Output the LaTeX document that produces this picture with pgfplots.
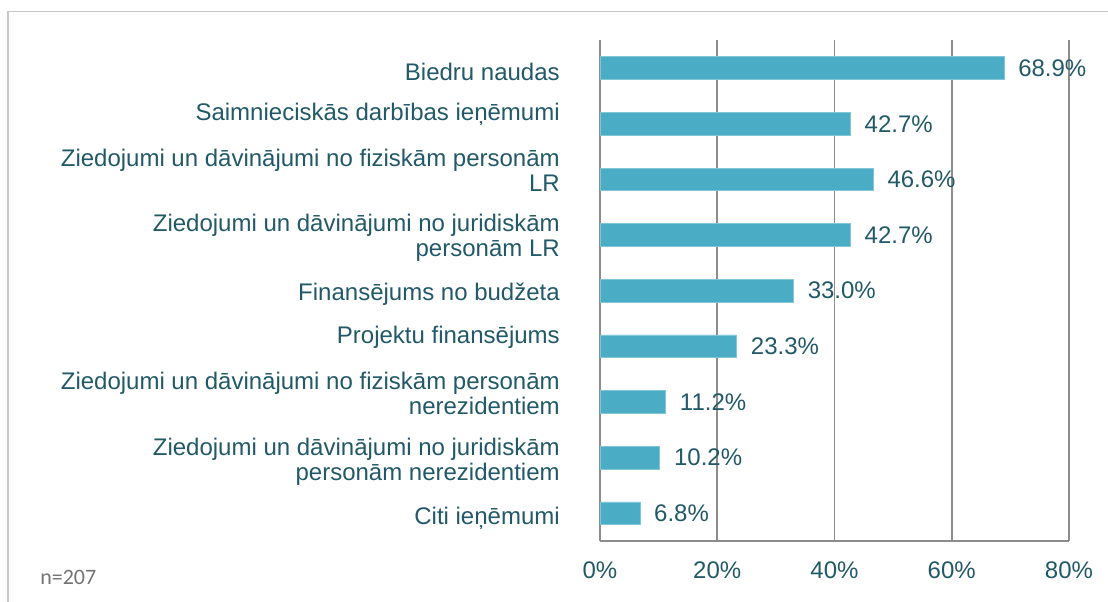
\documentclass[border=0pt]{standalone}
\usepackage{pgfplots}
\pgfplotsset{compat=1.18}
\usepackage{fontspec}
\setmainfont{Liberation Sans}
\newfontfamily\calibri{Carlito}
\definecolor{barc}{HTML}{4BACC6}
\definecolor{txt}{HTML}{215968}
\definecolor{gridc}{HTML}{8C8C8C}
\definecolor{framec}{HTML}{C8C8C8}
\begin{document}
\fontsize{18pt}{19pt}\selectfont
\begin{tikzpicture}
\useasboundingbox (0,0) rectangle (831pt,450.75pt);
\draw[framec, line width=0.8pt] (6pt,-5pt) -- (6pt,442pt) -- (840pt,442pt);
\node[anchor=west, inner sep=0pt, text=gray!90!black, font=\calibri\fontsize{16.5pt}{18pt}\selectfont] at (30pt,18pt) {n=207};
\begin{axis}[
  at={(450pt,45pt)}, anchor=south west,
  scale only axis, width=351.75pt, height=375.5pt,
  xbar, bar width=17pt,
  xmin=0, xmax=80, ymin=-0.5, ymax=8.5, y dir=reverse,
  clip=false,
  /pgf/number format/assume math mode=true,
  axis x line=bottom, axis y line=left,
  axis line style={gridc, line width=1.3pt, -},
  xmajorgrids, grid style={gridc, line width=1.3pt},
  major tick length=0pt,
  xtick={0,20,40,60,80},
  xticklabels={0\%,20\%,40\%,60\%,80\%},
  xticklabel style={text=txt, inner sep=0pt, yshift=-15pt, font=\fontsize{18pt}{19pt}\selectfont},
  ytick={0,...,8},
  yticklabels={
    {Biedru naudas},
    {Saimnieciskās darbības ieņēmumi},
    {Ziedojumi un dāvinājumi no fiziskām personām\\LR},
    {Ziedojumi un dāvinājumi no juridiskām\\personām LR},
    {Finansējums no budžeta},
    {Projektu finansējums},
    {Ziedojumi un dāvinājumi no fiziskām personām\\nerezidentiem},
    {Ziedojumi un dāvinājumi no juridiskām\\personām nerezidentiem},
    {Citi ieņēmumi}},
  yticklabel style={text=txt, align=right, anchor=east, inner sep=0pt, xshift=-30pt,
    yshift={{-3,6.75,7,-1.9,-3,6.75,6.4,-3,-3.75}[\ticknum]*1pt},
    font=\fontsize{18pt}{19pt}\selectfont},
  nodes near coords={\pgfmathprintnumber[fixed,fixed zerofill,precision=1]{\pgfplotspointmeta}\%},
  every node near coord/.append style={text=txt, anchor=west, inner sep=0pt, xshift=10.5pt, font=\fontsize{18pt}{19pt}\selectfont},
]
\addplot[fill=barc, draw=barc!70!white, line width=0.5pt] coordinates {
(68.9,0) (42.7,1) (46.6,2) (42.7,3) (33.0,4) (23.3,5) (11.2,6) (10.2,7) (6.8,8)
};
\end{axis}
\end{tikzpicture}
\end{document}
